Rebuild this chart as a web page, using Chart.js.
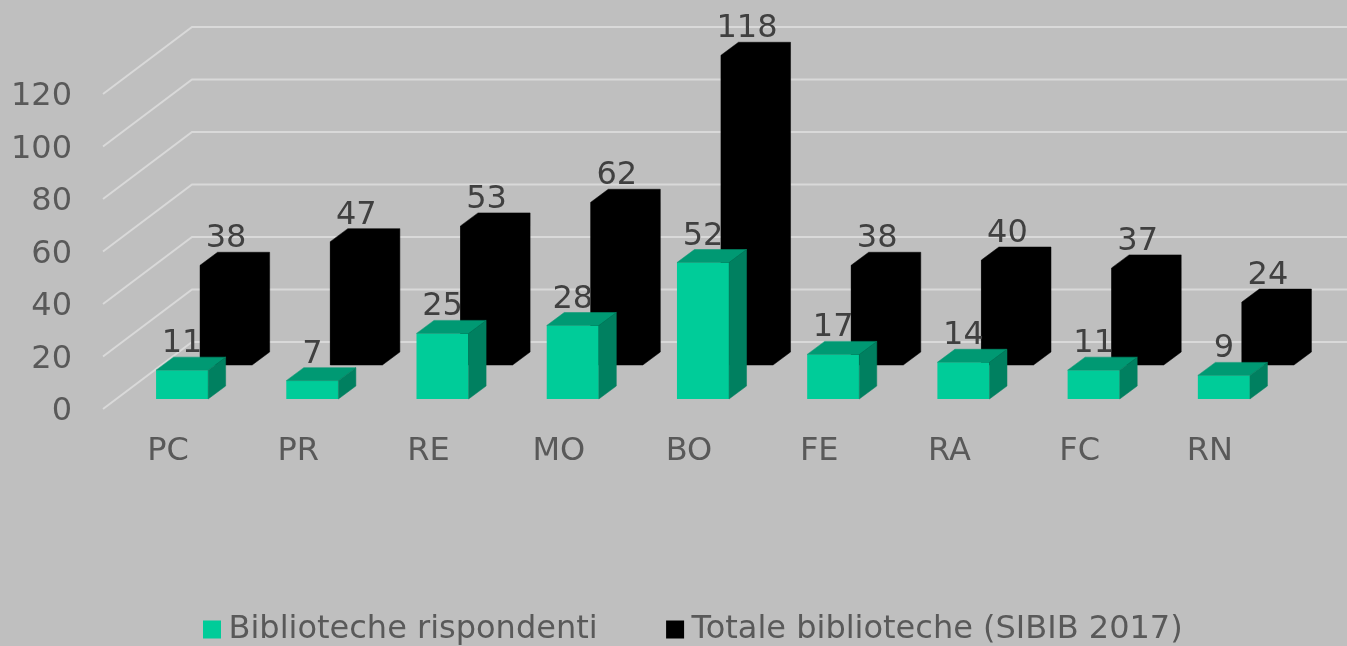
<!DOCTYPE html>
<html><head><meta charset="utf-8">
<style>html,body{margin:0;padding:0;background:#BFBFBF}canvas{display:block}</style>
<script src="https://cdn.jsdelivr.net/npm/chart.js@4/dist/chart.umd.js"></script>
</head><body><canvas id="c" width="1347" height="646"></canvas>
<script>
const categories = ["PC","PR","RE","MO","BO","FE","RA","FC","RN"];
const rispondenti = [11,7,25,28,52,17,14,11,9];
const totale = [38,47,53,62,118,38,40,37,24];
const seriesNames = ["Biblioteche rispondenti","Totale biblioteche (SIBIB 2017)"];
const yTicks = [0,20,40,60,80,100,120];

const FONT = "'DejaVu Sans'";
const FS = 32;
const LEGEND_PAD = 77;
const offsets = [{dx:14,dy:-10},{dx:58,dy:-44}];
const depth = {dx:17.5,dy:-13};
const faceColors = [{top:'#009973',side:'#008060',seam:0.5,hull:false},{top:'#000000',side:'#000000',seam:0.5,hull:true}];
const wall = {dx:89,dy:-67,right:1347};

const bar3d = {
  id:'bar3d',
  afterLayout(chart){
    const l=chart.legend, w=l.right-l.left;
    l.left=211.5-LEGEND_PAD; l.right=l.left+w;
    l.top=632.5-LEGEND_PAD-19;
  },
  beforeDatasetsDraw(chart){
    const {ctx,chartArea,scales:{y}} = chart;
    ctx.save();
    ctx.strokeStyle='#D9D9D9'; ctx.lineWidth=2; ctx.lineJoin='miter';
    yTicks.forEach(v=>{
      const p=y.getPixelForValue(v);
      ctx.beginPath();
      ctx.moveTo(chartArea.left,p);
      ctx.lineTo(chartArea.left+wall.dx,p+wall.dy);
      ctx.lineTo(wall.right,p+wall.dy);
      ctx.stroke();
    });
    ctx.restore();
  },
  beforeDatasetDraw(chart,args){
    const o=offsets[args.index];
    chart.ctx.save();
    chart.ctx.translate(o.dx,o.dy);
  },
  afterDatasetDraw(chart,args){
    const ctx=chart.ctx, c=faceColors[args.index];
    ctx.lineJoin='round';
    chart.getDatasetMeta(args.index).data.forEach(b=>{
      const l=b.x-b.width/2, r=b.x+b.width/2, t=b.y, bo=b.base;
      ctx.lineWidth=c.seam;
      if(c.hull){
        ctx.fillStyle=c.side; ctx.strokeStyle=c.side;
        ctx.beginPath();
        ctx.moveTo(l,bo);ctx.lineTo(l,t);ctx.lineTo(l+depth.dx,t+depth.dy);ctx.lineTo(r+depth.dx,t+depth.dy);
        ctx.lineTo(r+depth.dx,bo+depth.dy);ctx.lineTo(r,bo);
        ctx.closePath();ctx.fill();ctx.stroke();
        return;
      }
      ctx.fillStyle=c.top; ctx.strokeStyle=c.top;
      ctx.beginPath();
      ctx.moveTo(l,t);ctx.lineTo(l+depth.dx,t+depth.dy);ctx.lineTo(r+depth.dx,t+depth.dy);ctx.lineTo(r,t);
      ctx.closePath();ctx.fill();ctx.stroke();
      ctx.fillStyle=c.side; ctx.strokeStyle=c.side;
      ctx.beginPath();
      ctx.moveTo(r,t);ctx.lineTo(r+depth.dx,t+depth.dy);ctx.lineTo(r+depth.dx,bo+depth.dy);ctx.lineTo(r,bo);
      ctx.closePath();ctx.fill();ctx.stroke();
    });
    ctx.restore();
  },
  afterDatasetsDraw(chart){
    const ctx=chart.ctx;
    ctx.save();
    ctx.font=FS+"px "+FONT;
    ctx.fillStyle='#404040';
    ctx.textAlign='center';ctx.textBaseline='alphabetic';
    [0,1].forEach(i=>{
      const o=offsets[i], vals=chart.data.datasets[i].data;
      chart.getDatasetMeta(i).data.forEach((b,k)=>{
        ctx.fillText(String(vals[k]), b.x+o.dx, b.y+o.dy+depth.dy-5);
      });
    });
    ctx.restore();
  }
};

new Chart(document.getElementById('c'),{
  type:'bar',
  data:{labels:categories,datasets:[
    {label:seriesNames[0],data:rispondenti,backgroundColor:'#00CC99',grouped:false,clip:false,barPercentage:0.4,categoryPercentage:1},
    {label:seriesNames[1],data:totale,backgroundColor:'#000000',grouped:false,clip:false,barPercentage:0.4,categoryPercentage:1}
  ]},
  options:{
    responsive:false,animation:false,
    layout:{padding:{top:94,right:72,left:0,bottom:0}},
    plugins:{
      tooltip:{enabled:false},
      legend:{position:'bottom',align:'start',
        labels:{
          font:{family:FONT,size:FS},color:'#595959',boxWidth:1,boxHeight:1,padding:LEGEND_PAD,
          generateLabels(chart){
            return chart.data.datasets.map((d,i)=>({text:d.label,fillStyle:d.backgroundColor,strokeStyle:d.backgroundColor,fontColor:'#595959',lineWidth:17,datasetIndex:i,hidden:false}));
          }
        }
      }
    },
    scales:{
      x:{grid:{display:false},border:{display:false},
        ticks:{font:{family:FONT,size:FS},color:'#595959',padding:15,maxRotation:0},
        afterFit(s){s.height=237-s.chart.legend.height;}},
      y:{min:0,max:120,grid:{display:false},border:{display:false},
        afterBuildTicks(s){s.ticks=yTicks.map(v=>({value:v}));},
        ticks:{font:{family:FONT,size:FS},color:'#595959',padding:23,labelOffset:3},
        afterFit(s){s.width=103;}}
    }
  },
  plugins:[bar3d]
});
</script></body></html>
